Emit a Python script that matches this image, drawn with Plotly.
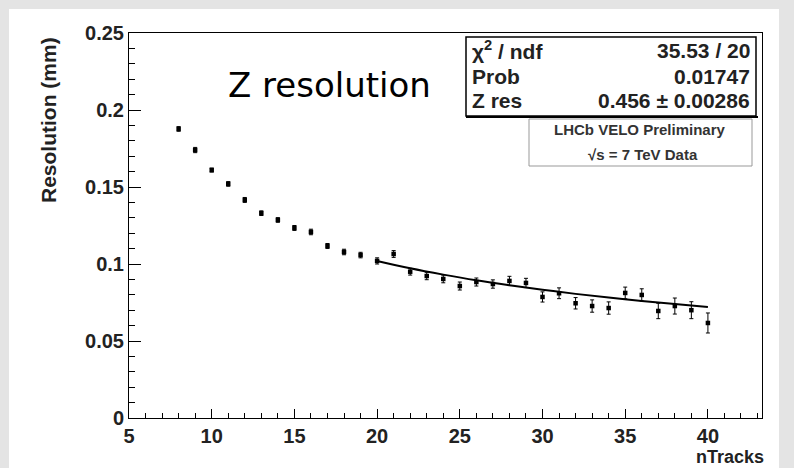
import plotly.graph_objects as go

# ---- data ----
n_tracks = list(range(8, 41))
resolution = [0.1877, 0.1740, 0.1610, 0.1520, 0.1416, 0.1330, 0.1286, 0.1234,
              0.1208, 0.1117, 0.1078, 0.1058, 0.1020, 0.1065, 0.0950, 0.0922,
              0.0903, 0.0857, 0.0883, 0.0870, 0.0890, 0.0877, 0.0786, 0.0810,
              0.0745, 0.0727, 0.0714, 0.0812, 0.0799, 0.0695, 0.0727, 0.0700,
              0.0617]
res_err = [0.0015, 0.0017, 0.0013, 0.0015, 0.0016, 0.0015, 0.0015, 0.0016,
           0.0018, 0.0016, 0.0018, 0.0018, 0.0020, 0.0022, 0.0022, 0.0024,
           0.0025, 0.0026, 0.0026, 0.0027, 0.0030, 0.0030, 0.0033, 0.0035,
           0.0037, 0.0040, 0.0040, 0.0038, 0.0040, 0.0050, 0.0052, 0.0055,
           0.0065]
fit_x = [20, 22, 24, 26, 28, 30, 32, 34, 36, 38, 40]
fit_y = [0.1020, 0.0972, 0.0931, 0.0894, 0.0862, 0.0833, 0.0806, 0.0782,
         0.0760, 0.0740, 0.0721]
x_ticks = [5, 10, 15, 20, 25, 30, 35, 40]
y_ticks = [0, 0.05, 0.1, 0.15, 0.2, 0.25]
y_tick_text = ["0", "0.05", "0.1", "0.15", "0.2", "0.25"]
stats_labels = ["χ<sup>2</sup> / ndf", "Prob", "Z res"]
stats_values = ["35.53 / 20", "0.01747", "0.456 ± 0.00286"]

# ---- layout geometry (pixels) ----
W, H = 794, 468
L, R, T, B = 129, 762, 33, 418


def px(x):
    return (x - L) / (R - L)


def py(y):
    return (B - y) / (B - T)


FONT = "Liberation Sans, Arial, sans-serif"
TXT = "#222"

fig = go.Figure()
fig.add_trace(go.Scatter(
    x=n_tracks, y=resolution, mode="markers",
    marker=dict(symbol="square", size=4.5, color="black"),
    error_y=dict(type="data", array=res_err, visible=True, color="black",
                 thickness=1, width=2),
    showlegend=False, hoverinfo="x+y"))
fig.add_trace(go.Scatter(
    x=fit_x, y=fit_y, mode="lines", line=dict(color="black", width=2, shape="spline"),
    showlegend=False))

axis_common = dict(showline=True, linecolor="black", linewidth=1, mirror=True,
                   ticks="inside", tickcolor="black", showgrid=False, zeroline=False,
                   tickfont=dict(family=FONT, size=20, color=TXT, weight="bold"))

fig.update_xaxes(range=[5, 43.27], tickvals=x_ticks, ticklen=9,
                 minor=dict(dtick=1, ticks="inside", ticklen=5, tickcolor="black"),
                 **axis_common)
fig.update_yaxes(range=[0, 0.25], tickvals=y_ticks, ticktext=y_tick_text, ticklen=12,
                 minor=dict(dtick=0.01, ticks="inside", ticklen=6, tickcolor="black"),
                 **axis_common)

shapes = [
    # white canvas over gray frame
    dict(type="rect", xref="paper", yref="paper", layer="below",
         x0=px(9), x1=px(779), y0=py(9), y1=py(470),
         fillcolor="white", line=dict(width=0)),
    # stats box
    dict(type="rect", xref="paper", yref="paper",
         x0=px(466), x1=px(756), y0=py(116), y1=py(37),
         fillcolor="white", line=dict(color="black", width=1.5)),
    dict(type="line", xref="paper", yref="paper",
         x0=px(466), x1=px(758), y0=py(117), y1=py(117),
         line=dict(color="black", width=2)),
    # LHCb box
    dict(type="rect", xref="paper", yref="paper",
         x0=px(529), x1=px(752), y0=py(166), y1=py(119),
         fillcolor="white", line=dict(color="#999", width=1)),
]

annotations = [
    dict(text="Z resolution", x=px(329), y=py(85), xref="paper", yref="paper",
         showarrow=False, xanchor="center", yanchor="middle",
         font=dict(family="DejaVu Sans, sans-serif", size=34, color="black")),
    dict(text="<b>Resolution (mm)</b>", x=px(48), y=py(35), xref="paper", yref="paper",
         showarrow=False, textangle=-90, xanchor="center", yanchor="top",
         font=dict(family=FONT, size=21, color=TXT)),
    dict(text="<b>nTracks</b>", x=px(766), y=py(457), xref="paper", yref="paper",
         showarrow=False, xanchor="right", yanchor="middle",
         font=dict(family=FONT, size=18, color=TXT)),
    dict(text="<b>LHCb VELO Preliminary</b>", x=px(640), y=py(129), xref="paper",
         yref="paper", showarrow=False, xanchor="center", yanchor="middle",
         font=dict(family=FONT, size=15, color="#333")),
    dict(text="<b>√s = 7 TeV Data</b>", x=px(643), y=py(154), xref="paper",
         yref="paper", showarrow=False, xanchor="center", yanchor="middle",
         font=dict(family=FONT, size=15, color="#333")),
]
row_y = [50, 76, 101]
for lab, val, yy in zip(stats_labels, stats_values, row_y):
    annotations.append(dict(text="<b>" + lab + "</b>", x=px(470), y=py(yy), xref="paper",
                            yref="paper", showarrow=False, xanchor="left",
                            yanchor="middle",
                            font=dict(family=FONT, size=21, color=TXT)))
    annotations.append(dict(text="<b>" + val + "</b>", x=px(752), y=py(yy), xref="paper",
                            yref="paper", showarrow=False, xanchor="right",
                            yanchor="middle",
                            font=dict(family=FONT, size=21, color=TXT)))

fig.update_layout(
    width=W, height=H,
    margin=dict(l=L, r=W - R, t=T, b=H - B),
    paper_bgcolor="#e4e4e4", plot_bgcolor="white",
    shapes=shapes, annotations=annotations,
)

fig.write_html("out.html", config={"displayModeBar": False},
               post_script="document.body.style.margin='0px';"
                           "document.body.style.overflow='hidden';")
